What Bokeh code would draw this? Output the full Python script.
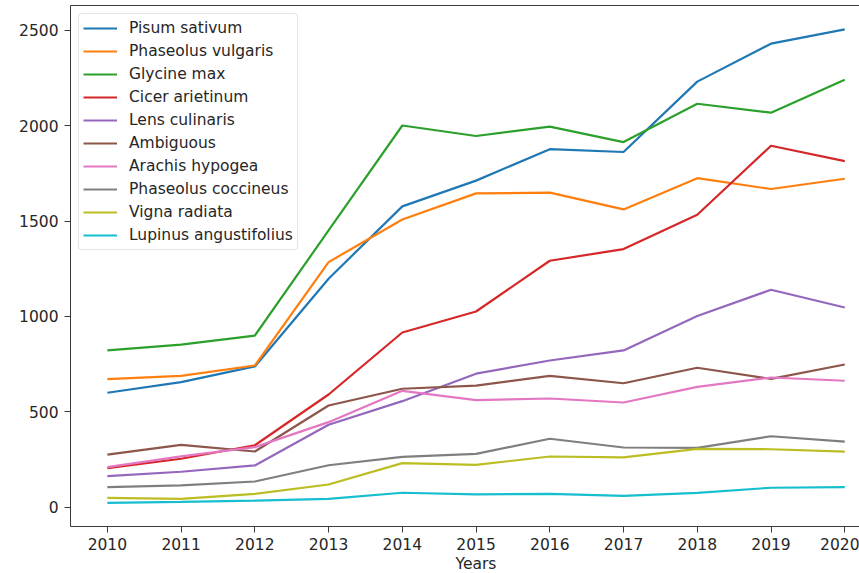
from bokeh.plotting import figure
from bokeh.models import (Range1d, FixedTicker, LinearAxis, Legend, LegendItem, Title)
from bokeh.embed import file_html
from bokeh.resources import INLINE

# Publication counts per legume species, 2010-2020
years = [2010, 2011, 2012, 2013, 2014, 2015, 2016, 2017, 2018, 2019, 2020]

pisum_sativum = [600, 656, 738, 1198, 1577, 1712, 1877, 1862, 2231, 2430, 2505]
phaseolus_vulgaris = [671, 689, 743, 1285, 1508, 1645, 1649, 1561, 1725, 1668, 1722]
glycine_max = [822, 852, 900, 1451, 2001, 1946, 1995, 1914, 2115, 2068, 2241]
cicer_arietinum = [205, 254, 325, 591, 916, 1026, 1292, 1353, 1533, 1895, 1814]
lens_culinaris = [163, 186, 219, 432, 556, 700, 769, 822, 1002, 1140, 1047]
ambiguous = [276, 327, 292, 533, 621, 637, 689, 650, 731, 673, 748]
arachis_hypogea = [210, 267, 315, 446, 610, 561, 570, 549, 631, 680, 663]
phaseolus_coccineus = [105, 115, 135, 220, 264, 280, 359, 313, 311, 372, 344]
vigna_radiata = [49, 44, 70, 119, 231, 222, 266, 261, 306, 304, 292]
lupinus_angustifolius = [23, 28, 35, 44, 76, 67, 70, 60, 75, 102, 105]

series_names = ["Pisum sativum", "Phaseolus vulgaris", "Glycine max", "Cicer arietinum",
                "Lens culinaris", "Ambiguous", "Arachis hypogea", "Phaseolus coccineus",
                "Vigna radiata", "Lupinus angustifolius"]
series_values = [pisum_sativum, phaseolus_vulgaris, glycine_max, cicer_arietinum,
                 lens_culinaris, ambiguous, arachis_hypogea, phaseolus_coccineus,
                 vigna_radiata, lupinus_angustifolius]
colors = ["#1f77b4", "#ff7f0e", "#2ca02c", "#d62728", "#9467bd",
          "#8c564b", "#e377c2", "#7f7f7f", "#bcbd22", "#17becf"]

y_ticks = [0, 500, 1000, 1500, 2000, 2500]

FONT = "DejaVu Sans"
FSIZE = "15.5px"
TEXT = "#262626"
SPINE = "#3a3a3a"

p = figure(width=859, height=573,
           x_range=Range1d(2009.5, 2020.2), y_range=Range1d(-101, 2630),
           output_backend="svg", toolbar_location=None,
           min_border_left=70, min_border_right=0,
           min_border_top=5, min_border_bottom=47)

p.outline_line_color = None
p.xgrid.visible = False
p.ygrid.visible = False
p.background_fill_color = "white"
p.border_fill_color = "white"

for ax in (p.xaxis[0], p.yaxis[0]):
    ax.axis_line_color = SPINE
    ax.axis_line_width = 1
    ax.major_tick_line_color = SPINE
    ax.major_tick_out = 6
    ax.major_tick_in = 0
    ax.minor_tick_line_color = None
    ax.major_label_text_font = FONT
    ax.major_label_text_font_size = FSIZE
    ax.major_label_text_color = TEXT

p.xaxis.ticker = FixedTicker(ticks=years)
p.xaxis.major_label_standoff = 5
p.yaxis.ticker = FixedTicker(ticks=y_ticks)
p.yaxis.major_label_standoff = 6

# top spine
top = LinearAxis(ticker=FixedTicker(ticks=[]), axis_line_color=SPINE,
                 major_tick_line_color=None, minor_tick_line_color=None,
                 major_label_text_font_size="0px", major_label_standoff=0)
p.add_layout(top, "above")

items = []
for name, vals, c in zip(series_names, series_values, colors):
    r = p.line(years, vals, line_color=c, line_width=2.2)
    items.append(LegendItem(label=name, renderers=[r]))

legend = Legend(items=items, location="top_left")
legend.margin = 8
legend.padding = 4
legend.spacing = 3
legend.glyph_width = 34
legend.glyph_height = 20
legend.label_height = 20
legend.label_standoff = 12
legend.label_text_font = FONT
legend.label_text_font_size = FSIZE
legend.label_text_color = TEXT
legend.border_line_color = "#cccccc"
legend.border_line_width = 1
legend.background_fill_alpha = 0.8
try:
    legend.border_radius = 4
except AttributeError:
    pass
p.add_layout(legend)

# x-axis title, centred under the full year span
x_title = Title(text="Years", align="left", offset=385, standoff=0,
                text_font=FONT, text_font_size=FSIZE, text_color=TEXT,
                text_font_style="normal")
p.add_layout(x_title, "below")

open("out.html", "w").write(file_html(p, INLINE))
